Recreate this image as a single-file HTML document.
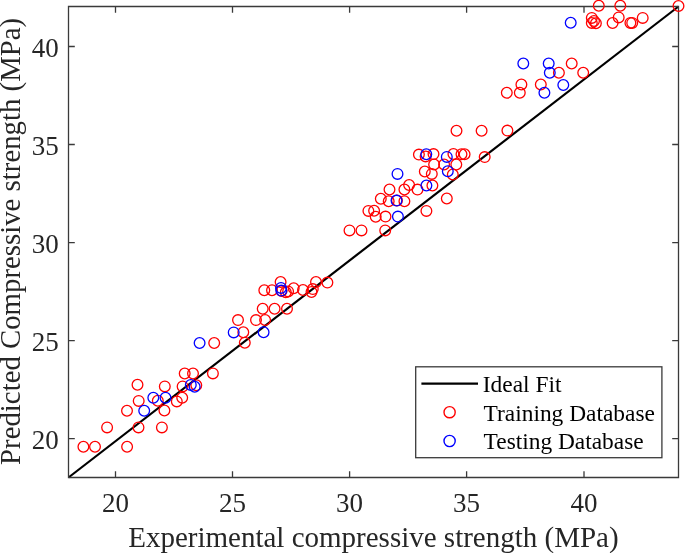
<!DOCTYPE html>
<html><head><meta charset="utf-8"><style>
html,body{margin:0;padding:0;background:#fff;}
body{width:685px;height:553px;overflow:hidden;font-family:"Liberation Serif",serif;}
svg{display:block;will-change:transform;}
</style></head><body>
<svg width="685" height="553" viewBox="0 0 685 553">
<rect width="685" height="553" fill="#fff"/>
<line x1="68.5" y1="477.5" x2="678.5" y2="6.5" stroke="#000" stroke-width="2.2"/>
<path d="M68.5 6.5H678.5V477.5H68.5ZM115.5 477.5v-6.3M115.5 6.5v6.3M232.5 477.5v-6.3M232.5 6.5v6.3M349.6 477.5v-6.3M349.6 6.5v6.3M466.6 477.5v-6.3M466.6 6.5v6.3M584.0 477.5v-6.3M584.0 6.5v6.3M68.5 438.6h6.3M678.5 438.6h-6.3M68.5 340.6h6.3M678.5 340.6h-6.3M68.5 242.6h6.3M678.5 242.6h-6.3M68.5 144.5h6.3M678.5 144.5h-6.3M68.5 46.5h6.3M678.5 46.5h-6.3" fill="none" stroke="#3a3a3a" stroke-width="1.3"/>
<circle cx="83.4" cy="446.7" r="5.35" fill="none" stroke="#f00" stroke-width="1.3"/>
<circle cx="95.0" cy="446.7" r="5.35" fill="none" stroke="#f00" stroke-width="1.3"/>
<circle cx="127.1" cy="446.7" r="5.35" fill="none" stroke="#f00" stroke-width="1.3"/>
<circle cx="107.1" cy="427.4" r="5.35" fill="none" stroke="#f00" stroke-width="1.3"/>
<circle cx="138.5" cy="427.4" r="5.35" fill="none" stroke="#f00" stroke-width="1.3"/>
<circle cx="161.9" cy="427.4" r="5.35" fill="none" stroke="#f00" stroke-width="1.3"/>
<circle cx="127.0" cy="410.8" r="5.35" fill="none" stroke="#f00" stroke-width="1.3"/>
<circle cx="164.4" cy="410.5" r="5.35" fill="none" stroke="#f00" stroke-width="1.3"/>
<circle cx="138.7" cy="400.9" r="5.35" fill="none" stroke="#f00" stroke-width="1.3"/>
<circle cx="157.8" cy="400.8" r="5.35" fill="none" stroke="#f00" stroke-width="1.3"/>
<circle cx="176.8" cy="401.4" r="5.35" fill="none" stroke="#f00" stroke-width="1.3"/>
<circle cx="182.2" cy="397.8" r="5.35" fill="none" stroke="#f00" stroke-width="1.3"/>
<circle cx="137.5" cy="384.8" r="5.35" fill="none" stroke="#f00" stroke-width="1.3"/>
<circle cx="164.8" cy="386.4" r="5.35" fill="none" stroke="#f00" stroke-width="1.3"/>
<circle cx="182.6" cy="386.4" r="5.35" fill="none" stroke="#f00" stroke-width="1.3"/>
<circle cx="196.3" cy="385.2" r="5.35" fill="none" stroke="#f00" stroke-width="1.3"/>
<circle cx="184.7" cy="373.5" r="5.35" fill="none" stroke="#f00" stroke-width="1.3"/>
<circle cx="193.0" cy="373.5" r="5.35" fill="none" stroke="#f00" stroke-width="1.3"/>
<circle cx="212.9" cy="373.4" r="5.35" fill="none" stroke="#f00" stroke-width="1.3"/>
<circle cx="214.2" cy="343.0" r="5.35" fill="none" stroke="#f00" stroke-width="1.3"/>
<circle cx="243.3" cy="332.3" r="5.35" fill="none" stroke="#f00" stroke-width="1.3"/>
<circle cx="244.8" cy="342.7" r="5.35" fill="none" stroke="#f00" stroke-width="1.3"/>
<circle cx="238.0" cy="320.1" r="5.35" fill="none" stroke="#f00" stroke-width="1.3"/>
<circle cx="256.0" cy="320.1" r="5.35" fill="none" stroke="#f00" stroke-width="1.3"/>
<circle cx="265.1" cy="320.0" r="5.35" fill="none" stroke="#f00" stroke-width="1.3"/>
<circle cx="262.7" cy="308.8" r="5.35" fill="none" stroke="#f00" stroke-width="1.3"/>
<circle cx="274.6" cy="308.8" r="5.35" fill="none" stroke="#f00" stroke-width="1.3"/>
<circle cx="287.0" cy="308.8" r="5.35" fill="none" stroke="#f00" stroke-width="1.3"/>
<circle cx="280.6" cy="282.0" r="5.35" fill="none" stroke="#f00" stroke-width="1.3"/>
<circle cx="264.3" cy="290.2" r="5.35" fill="none" stroke="#f00" stroke-width="1.3"/>
<circle cx="272.0" cy="290.3" r="5.35" fill="none" stroke="#f00" stroke-width="1.3"/>
<circle cx="281.6" cy="290.9" r="5.35" fill="none" stroke="#f00" stroke-width="1.3"/>
<circle cx="285.8" cy="292.3" r="5.35" fill="none" stroke="#f00" stroke-width="1.3"/>
<circle cx="288.1" cy="291.4" r="5.35" fill="none" stroke="#f00" stroke-width="1.3"/>
<circle cx="293.7" cy="288.3" r="5.35" fill="none" stroke="#f00" stroke-width="1.3"/>
<circle cx="303.0" cy="290.0" r="5.35" fill="none" stroke="#f00" stroke-width="1.3"/>
<circle cx="311.5" cy="292.0" r="5.35" fill="none" stroke="#f00" stroke-width="1.3"/>
<circle cx="312.8" cy="289.1" r="5.35" fill="none" stroke="#f00" stroke-width="1.3"/>
<circle cx="316.0" cy="282.0" r="5.35" fill="none" stroke="#f00" stroke-width="1.3"/>
<circle cx="327.4" cy="282.6" r="5.35" fill="none" stroke="#f00" stroke-width="1.3"/>
<circle cx="349.5" cy="230.4" r="5.35" fill="none" stroke="#f00" stroke-width="1.3"/>
<circle cx="361.5" cy="230.4" r="5.35" fill="none" stroke="#f00" stroke-width="1.3"/>
<circle cx="385.2" cy="230.4" r="5.35" fill="none" stroke="#f00" stroke-width="1.3"/>
<circle cx="368.4" cy="210.9" r="5.35" fill="none" stroke="#f00" stroke-width="1.3"/>
<circle cx="374.1" cy="210.8" r="5.35" fill="none" stroke="#f00" stroke-width="1.3"/>
<circle cx="375.7" cy="216.7" r="5.35" fill="none" stroke="#f00" stroke-width="1.3"/>
<circle cx="385.5" cy="216.6" r="5.35" fill="none" stroke="#f00" stroke-width="1.3"/>
<circle cx="380.8" cy="198.7" r="5.35" fill="none" stroke="#f00" stroke-width="1.3"/>
<circle cx="388.7" cy="201.2" r="5.35" fill="none" stroke="#f00" stroke-width="1.3"/>
<circle cx="397.0" cy="200.5" r="5.35" fill="none" stroke="#f00" stroke-width="1.3"/>
<circle cx="404.4" cy="201.2" r="5.35" fill="none" stroke="#f00" stroke-width="1.3"/>
<circle cx="389.5" cy="189.5" r="5.35" fill="none" stroke="#f00" stroke-width="1.3"/>
<circle cx="404.4" cy="189.5" r="5.35" fill="none" stroke="#f00" stroke-width="1.3"/>
<circle cx="409.1" cy="185.0" r="5.35" fill="none" stroke="#f00" stroke-width="1.3"/>
<circle cx="417.5" cy="189.6" r="5.35" fill="none" stroke="#f00" stroke-width="1.3"/>
<circle cx="426.4" cy="210.9" r="5.35" fill="none" stroke="#f00" stroke-width="1.3"/>
<circle cx="432.4" cy="185.5" r="5.35" fill="none" stroke="#f00" stroke-width="1.3"/>
<circle cx="446.8" cy="198.5" r="5.35" fill="none" stroke="#f00" stroke-width="1.3"/>
<circle cx="424.8" cy="171.5" r="5.35" fill="none" stroke="#f00" stroke-width="1.3"/>
<circle cx="431.8" cy="173.9" r="5.35" fill="none" stroke="#f00" stroke-width="1.3"/>
<circle cx="452.8" cy="174.5" r="5.35" fill="none" stroke="#f00" stroke-width="1.3"/>
<circle cx="434.1" cy="164.5" r="5.35" fill="none" stroke="#f00" stroke-width="1.3"/>
<circle cx="444.1" cy="164.5" r="5.35" fill="none" stroke="#f00" stroke-width="1.3"/>
<circle cx="456.3" cy="164.5" r="5.35" fill="none" stroke="#f00" stroke-width="1.3"/>
<circle cx="418.9" cy="154.6" r="5.35" fill="none" stroke="#f00" stroke-width="1.3"/>
<circle cx="425.6" cy="156.4" r="5.35" fill="none" stroke="#f00" stroke-width="1.3"/>
<circle cx="433.5" cy="154.1" r="5.35" fill="none" stroke="#f00" stroke-width="1.3"/>
<circle cx="453.4" cy="154.0" r="5.35" fill="none" stroke="#f00" stroke-width="1.3"/>
<circle cx="461.5" cy="154.3" r="5.35" fill="none" stroke="#f00" stroke-width="1.3"/>
<circle cx="464.6" cy="154.3" r="5.35" fill="none" stroke="#f00" stroke-width="1.3"/>
<circle cx="484.7" cy="157.1" r="5.35" fill="none" stroke="#f00" stroke-width="1.3"/>
<circle cx="456.5" cy="130.8" r="5.35" fill="none" stroke="#f00" stroke-width="1.3"/>
<circle cx="481.6" cy="130.8" r="5.35" fill="none" stroke="#f00" stroke-width="1.3"/>
<circle cx="507.4" cy="130.6" r="5.35" fill="none" stroke="#f00" stroke-width="1.3"/>
<circle cx="506.8" cy="92.8" r="5.35" fill="none" stroke="#f00" stroke-width="1.3"/>
<circle cx="519.8" cy="92.8" r="5.35" fill="none" stroke="#f00" stroke-width="1.3"/>
<circle cx="521.4" cy="84.5" r="5.35" fill="none" stroke="#f00" stroke-width="1.3"/>
<circle cx="540.8" cy="84.5" r="5.35" fill="none" stroke="#f00" stroke-width="1.3"/>
<circle cx="558.9" cy="72.8" r="5.35" fill="none" stroke="#f00" stroke-width="1.3"/>
<circle cx="571.7" cy="63.5" r="5.35" fill="none" stroke="#f00" stroke-width="1.3"/>
<circle cx="583.2" cy="72.8" r="5.35" fill="none" stroke="#f00" stroke-width="1.3"/>
<circle cx="598.8" cy="5.8" r="5.35" fill="none" stroke="#f00" stroke-width="1.3"/>
<circle cx="620.3" cy="5.8" r="5.35" fill="none" stroke="#f00" stroke-width="1.3"/>
<circle cx="591.8" cy="17.9" r="5.35" fill="none" stroke="#f00" stroke-width="1.3"/>
<circle cx="591.8" cy="22.9" r="5.35" fill="none" stroke="#f00" stroke-width="1.3"/>
<circle cx="595.9" cy="23.3" r="5.35" fill="none" stroke="#f00" stroke-width="1.3"/>
<circle cx="594.0" cy="21.0" r="5.35" fill="none" stroke="#f00" stroke-width="1.3"/>
<circle cx="612.6" cy="23.0" r="5.35" fill="none" stroke="#f00" stroke-width="1.3"/>
<circle cx="618.7" cy="17.4" r="5.35" fill="none" stroke="#f00" stroke-width="1.3"/>
<circle cx="630.4" cy="22.9" r="5.35" fill="none" stroke="#f00" stroke-width="1.3"/>
<circle cx="632.2" cy="22.9" r="5.35" fill="none" stroke="#f00" stroke-width="1.3"/>
<circle cx="642.7" cy="17.9" r="5.35" fill="none" stroke="#f00" stroke-width="1.3"/>
<circle cx="678.5" cy="6.0" r="5.35" fill="none" stroke="#f00" stroke-width="1.3"/>
<circle cx="144.2" cy="410.8" r="5.35" fill="none" stroke="#00f" stroke-width="1.3"/>
<circle cx="153.3" cy="397.7" r="5.35" fill="none" stroke="#00f" stroke-width="1.3"/>
<circle cx="165.5" cy="397.7" r="5.35" fill="none" stroke="#00f" stroke-width="1.3"/>
<circle cx="190.8" cy="384.9" r="5.35" fill="none" stroke="#00f" stroke-width="1.3"/>
<circle cx="194.7" cy="386.7" r="5.35" fill="none" stroke="#00f" stroke-width="1.3"/>
<circle cx="199.6" cy="343.0" r="5.35" fill="none" stroke="#00f" stroke-width="1.3"/>
<circle cx="233.7" cy="332.4" r="5.35" fill="none" stroke="#00f" stroke-width="1.3"/>
<circle cx="263.6" cy="332.3" r="5.35" fill="none" stroke="#00f" stroke-width="1.3"/>
<circle cx="281.0" cy="287.9" r="5.35" fill="none" stroke="#00f" stroke-width="1.3"/>
<circle cx="281.3" cy="290.6" r="5.35" fill="none" stroke="#00f" stroke-width="1.3"/>
<circle cx="397.9" cy="216.6" r="5.35" fill="none" stroke="#00f" stroke-width="1.3"/>
<circle cx="396.5" cy="200.6" r="5.35" fill="none" stroke="#00f" stroke-width="1.3"/>
<circle cx="397.5" cy="173.9" r="5.35" fill="none" stroke="#00f" stroke-width="1.3"/>
<circle cx="426.4" cy="185.5" r="5.35" fill="none" stroke="#00f" stroke-width="1.3"/>
<circle cx="447.8" cy="171.3" r="5.35" fill="none" stroke="#00f" stroke-width="1.3"/>
<circle cx="426.3" cy="154.2" r="5.35" fill="none" stroke="#00f" stroke-width="1.3"/>
<circle cx="446.8" cy="156.9" r="5.35" fill="none" stroke="#00f" stroke-width="1.3"/>
<circle cx="523.3" cy="63.5" r="5.35" fill="none" stroke="#00f" stroke-width="1.3"/>
<circle cx="548.7" cy="63.5" r="5.35" fill="none" stroke="#00f" stroke-width="1.3"/>
<circle cx="549.8" cy="72.8" r="5.35" fill="none" stroke="#00f" stroke-width="1.3"/>
<circle cx="563.3" cy="85.0" r="5.35" fill="none" stroke="#00f" stroke-width="1.3"/>
<circle cx="544.4" cy="92.8" r="5.35" fill="none" stroke="#00f" stroke-width="1.3"/>
<circle cx="570.7" cy="22.8" r="5.35" fill="none" stroke="#00f" stroke-width="1.3"/>
<g font-family="Liberation Serif, serif" font-size="27" fill="#262626">
<text x="115.5" y="512.3" text-anchor="middle">20</text>
<text x="232.5" y="512.3" text-anchor="middle">25</text>
<text x="349.6" y="512.3" text-anchor="middle">30</text>
<text x="466.6" y="512.3" text-anchor="middle">35</text>
<text x="584.0" y="512.3" text-anchor="middle">40</text>
<text x="58.7" y="448.6" text-anchor="end">20</text>
<text x="58.7" y="350.6" text-anchor="end">25</text>
<text x="58.7" y="252.6" text-anchor="end">30</text>
<text x="58.7" y="154.5" text-anchor="end">35</text>
<text x="58.7" y="56.5" text-anchor="end">40</text>
</g>
<g font-family="Liberation Serif, serif" font-size="29" fill="#262626">
<text x="373.4" y="546.8" text-anchor="middle">Experimental compressive strength (MPa)</text>
<text transform="translate(20.2 241.4) rotate(-90)" text-anchor="middle" font-size="28.8">Predicted Compressive strength (MPa)</text>
</g>
<rect x="415.7" y="366.8" width="246.2" height="90.9" fill="#fff" stroke="#3a3a3a" stroke-width="1.3"/>
<line x1="421.4" y1="383.6" x2="478" y2="383.6" stroke="#000" stroke-width="2.2"/>
<circle cx="449.6" cy="412.2" r="5.6" fill="none" stroke="#f00" stroke-width="1.4"/>
<circle cx="449.6" cy="441.0" r="5.6" fill="none" stroke="#00f" stroke-width="1.4"/>
<g font-family="Liberation Serif, serif" font-size="23.4" fill="#000">
<text x="482.8" y="392.3">Ideal Fit</text>
<text x="483.6" y="420.8">Training Database</text>
<text x="483.6" y="449.1">Testing Database</text>
</g>
</svg>
</body></html>
